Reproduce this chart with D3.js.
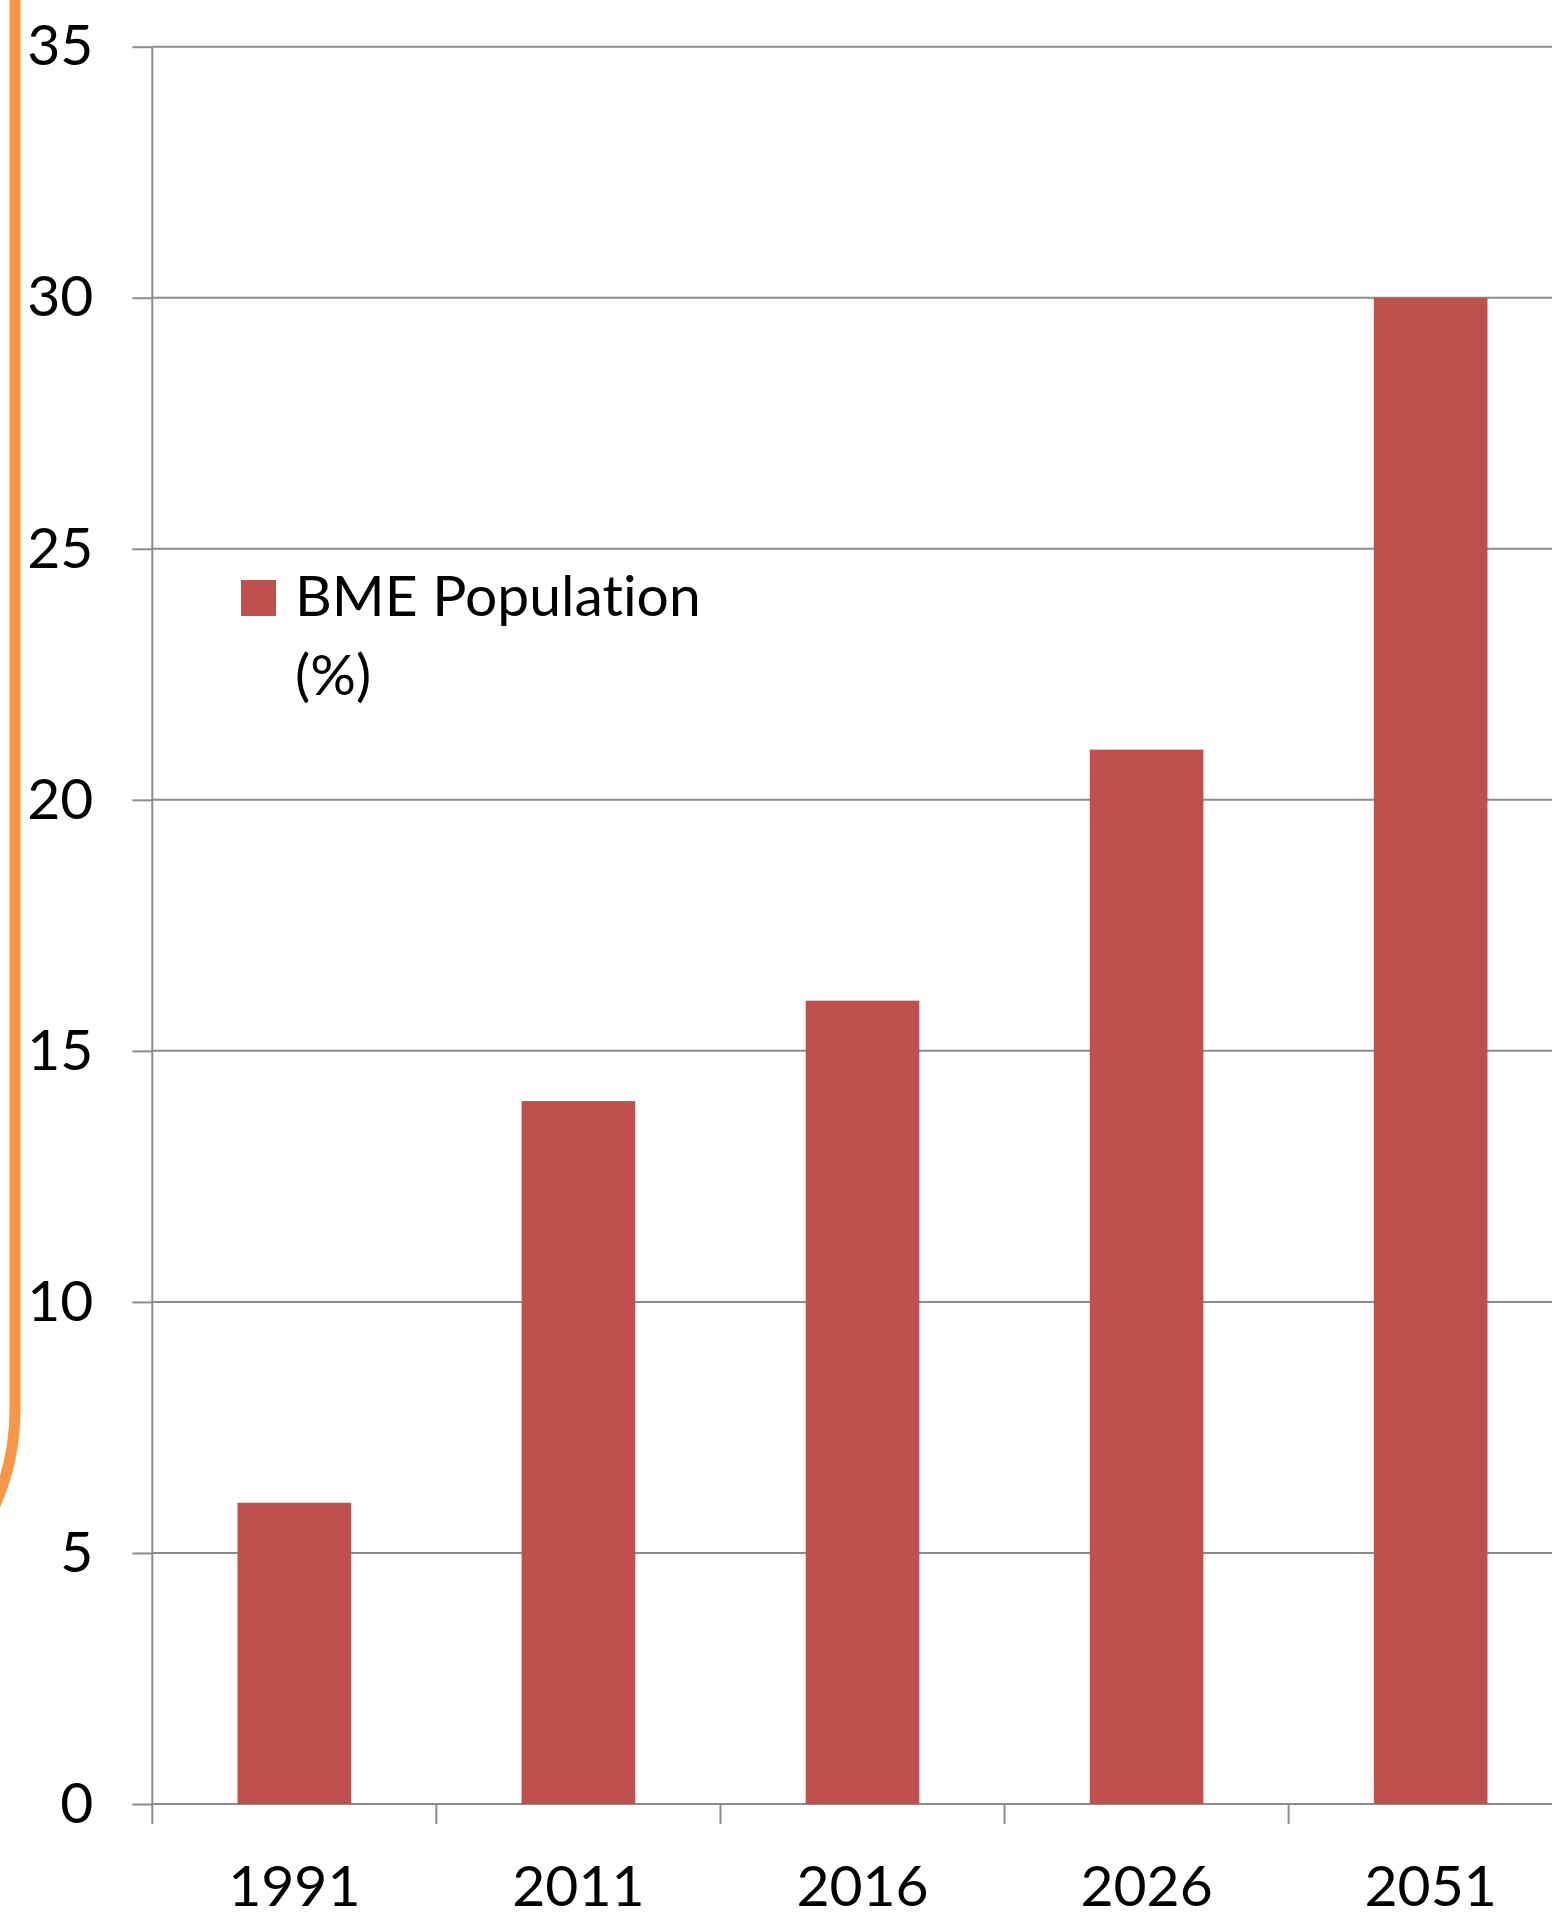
<!DOCTYPE html>
<html>
<head>
<meta charset="utf-8">
<script src="https://cdn.jsdelivr.net/npm/d3@7"></script>
<style>
  body { margin: 0; background: #fff; }
  text { font-family: Lato, "Open Sans", sans-serif; fill: #000; font-variant-ligatures: none; }
</style>
</head>
<body>
<svg id="chart" width="1552" height="1924"></svg>
<script>
// data
const years = ['1991', '2011', '2016', '2026', '2051'];
const bmeShare = [6, 14, 16, 21, 30];
const yTicks = [0, 5, 10, 15, 20, 25, 30, 35];
const legendLines = ['BME Population', '(%)'];

const WIDTH = 1552;
const axisX = 152.3;
const GRID = '#8c8c8c';
const BAR = '#c0504d';
const FONT = '57px';

const svg = d3.select('#chart');

// orange frame edge on the left (part of the slide behind the chart)
svg.append('path')
  .attr('d', 'M15,0 L15,1410 A236,236 0 0 1 -103,1614')
  .attr('fill', 'none')
  .attr('stroke', '#f79646')
  .attr('stroke-width', 11);

// scales
const yScale = d3.scaleLinear()
  .domain([0, 35])
  .range([1804, 46.7]);

const xScale = d3.scaleBand()
  .domain(years)
  .range([axisX, 1572.7])
  .paddingInner(0.6)
  .paddingOuter(0.3);

// gridlines
svg.append('g')
  .selectAll('line')
  .data(yTicks)
  .enter()
  .append('line')
  .attr('x1', axisX)
  .attr('x2', WIDTH)
  .attr('y1', d => yScale(d))
  .attr('y2', d => yScale(d))
  .attr('stroke', GRID)
  .attr('stroke-width', 2);

// bars
svg.append('g')
  .selectAll('rect')
  .data(bmeShare)
  .enter()
  .append('rect')
  .attr('x', (d, i) => xScale(years[i]))
  .attr('y', d => yScale(d))
  .attr('width', xScale.bandwidth())
  .attr('height', d => yScale(0) - yScale(d))
  .attr('fill', BAR);

// y axis
const yAxis = svg.append('g')
  .attr('transform', `translate(${axisX},0)`)
  .call(d3.axisLeft(yScale).tickValues(yTicks).tickSize(20).tickPadding(39));
yAxis.select('.domain').remove();
yAxis.selectAll('.tick line').attr('stroke', GRID).attr('stroke-width', 2);
yAxis.selectAll('.tick text')
  .style('font-size', FONT)
  .attr('fill', '#000');

svg.append('line')
  .attr('x1', axisX).attr('x2', axisX)
  .attr('y1', yScale(35)).attr('y2', yScale(0) + 20)
  .attr('stroke', GRID)
  .attr('stroke-width', 2);

// x axis labels
const xAxis = svg.append('g')
  .attr('transform', `translate(0,${yScale(0)})`)
  .call(d3.axisBottom(xScale).tickSize(0).tickPadding(62));
xAxis.select('.domain').remove();
xAxis.selectAll('.tick text')
  .style('font-size', FONT)
  .attr('fill', '#000');

// boundary ticks between categories
const step = xScale.step();
const boundaries = years.slice(1).map(d => xScale(d) - step * 0.3);
svg.append('g')
  .selectAll('line')
  .data(boundaries)
  .enter()
  .append('line')
  .attr('x1', d => d).attr('x2', d => d)
  .attr('y1', yScale(0)).attr('y2', yScale(0) + 20)
  .attr('stroke', GRID)
  .attr('stroke-width', 2);

// legend
const legend = svg.append('g');
legend.append('rect')
  .attr('x', 241)
  .attr('y', 580)
  .attr('width', 35)
  .attr('height', 36)
  .attr('fill', BAR);

legend.append('text')
  .attr('x', 295)
  .attr('y', 616)
  .style('font-size', FONT)
  .selectAll('tspan')
  .data(legendLines)
  .enter()
  .append('tspan')
  .attr('x', 295)
  .attr('dy', (d, i) => i === 0 ? 0 : 79)
  .text(d => d);
</script>
</body>
</html>
